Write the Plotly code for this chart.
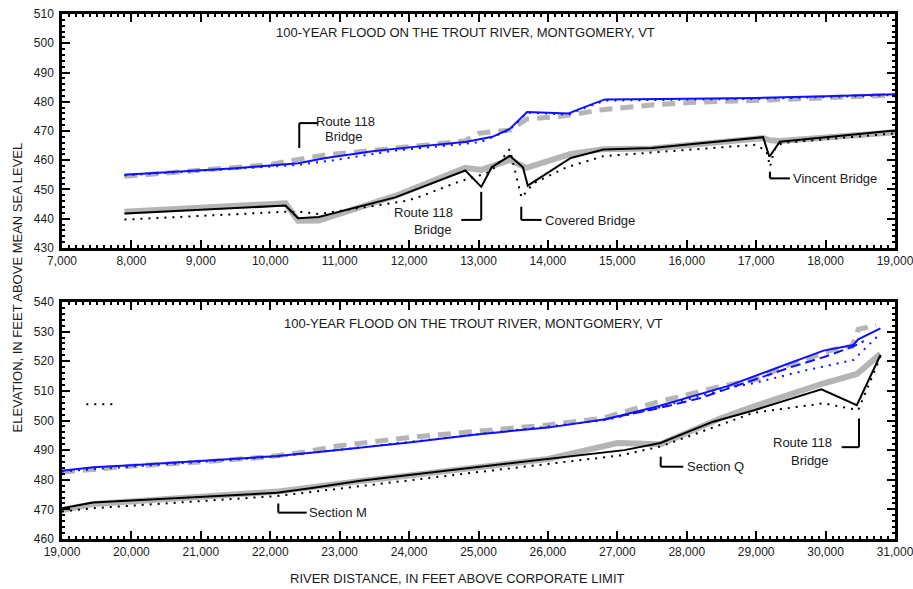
import plotly.graph_objects as go

# ---------------- Upper reach: river distance 7,000 - 19,000 ft ----------------
up_ws_x = [7900, 8500, 9000, 9500, 10000, 10400, 10800, 11500, 12000, 12500, 12830,
           13200, 13450, 13700, 14300, 14450, 14820, 16000, 17000, 18000, 19000]
up_ws_y = [455.0, 455.8, 456.5, 457.3, 458.2, 459.0, 460.8, 463.2, 464.4, 465.4, 466.3,
           468.0, 470.7, 476.5, 476.0, 477.5, 480.8, 481.0, 481.3, 481.9, 482.6]

up_wsdot_x = [7900, 9000, 10000, 10400, 11000, 11800, 12800, 13040, 13450, 13700,
              14300, 14450, 14820, 16000, 17000, 18000, 19000]
up_wsdot_y = [454.8, 456.3, 457.9, 458.4, 460.3, 463.3, 465.6, 466.3, 470.4, 476.3,
              475.6, 477.2, 480.4, 480.8, 481.0, 481.6, 482.3]

up_wsfis_x = [7900, 9000, 10000, 10400, 10800, 12000, 12800, 13000, 13300, 13450, 13700,
              14100, 14400, 14750, 15500, 16200, 17200, 18000, 19000]
up_wsfis_y = [454.5, 456.5, 458.5, 460.3, 461.8, 464.6, 466.6, 469.2, 469.7, 470.3, 474.1,
              474.8, 475.8, 477.2, 478.9, 479.9, 480.6, 481.2, 482.3]

up_bed_x = [7900, 10220, 10400, 10700, 11800, 12810, 13040, 13190, 13450, 13640, 13710,
            14330, 14800, 15500, 17100, 17190, 17340, 19000]
up_bed_y = [441.8, 444.5, 440.2, 440.6, 447.3, 456.5, 450.9, 457.6, 461.5, 457.6, 451.3,
            460.8, 463.7, 464.2, 467.9, 461.2, 466.3, 470.2]

up_bedfis_x = [7900, 10220, 10400, 10700, 11800, 12810, 13040, 13200, 13450, 13690,
               14330, 14800, 15500, 17100, 17200, 17340, 19000]
up_bedfis_y = [442.4, 445.3, 439.3, 439.4, 447.8, 457.4, 456.7, 458.0, 460.1, 457.4,
               462.2, 463.8, 464.0, 467.6, 466.8, 466.6, 469.6]

up_min_x = [7900, 10220, 10450, 10700, 11150, 11960, 12150, 12720, 13110, 13250, 13450,
            13620, 13790, 14270, 14800, 17000, 17150, 17200, 17260, 17370, 19000]
up_min_y = [439.7, 442.4, 442.3, 441.6, 443.2, 446.1, 447.5, 452.7, 455.5, 457.8, 463.8,
            447.2, 452.1, 457.6, 461.4, 465.3, 463.0, 457.8, 463.5, 465.9, 469.2]

# ---------------- Lower reach: river distance 19,000 - 31,000 ft ----------------
lo_ws_x = [19000, 19450, 20000, 21000, 22100, 22700, 23300, 24000, 25000, 26000, 26850,
           27330, 27600, 28600, 29000, 29500, 29970, 30400, 30470, 30790]
lo_ws_y = [483.0, 484.2, 484.9, 486.4, 488.0, 489.4, 490.9, 492.6, 495.4, 497.6, 500.5,
           503.3, 504.9, 511.7, 515.2, 519.5, 523.6, 525.5, 527.4, 531.1]

lo_wsdash_x = [26800, 27300, 27600, 28200, 28600, 29000, 29500, 30000, 30400, 30550]
lo_wsdash_y = [500.3, 502.8, 504.2, 507.6, 510.8, 513.8, 518.0, 521.6, 525.0, 526.8]

lo_wsdot_x = [19000, 22100, 26850, 27600, 28600, 28960, 29730, 30400, 30790]
lo_wsdot_y = [482.8, 487.8, 500.2, 504.4, 511.0, 512.6, 517.0, 520.4, 529.4]

lo_wsfis_x = [19000, 19500, 20000, 21000, 22000, 22500, 23000, 24000, 25000, 26000, 26800,
              27280, 27640, 27900, 28200, 28430, 29050, 29370, 29920, 30110, 30380, 30470, 30730]
lo_wsfis_y = [482.6, 483.8, 484.6, 486.0, 487.8, 489.4, 491.5, 494.3, 496.6, 498.5, 500.8,
              504.1, 506.7, 508.0, 509.7, 511.2, 514.2, 518.0, 522.4, 524.0, 525.0, 530.8, 532.2]

lo_bed_x = [19000, 19450, 20000, 21000, 22100, 22600, 23300, 24000, 25000, 26000, 27100,
            27620, 28380, 28960, 29940, 30450, 30790]
lo_bed_y = [470.4, 472.3, 473.0, 474.2, 475.6, 477.2, 479.7, 481.6, 484.3, 486.8, 490.0,
            492.4, 499.6, 503.4, 510.5, 505.2, 522.1]

lo_bedfis_x = [19000, 19450, 22100, 22600, 23300, 24000, 25000, 26000, 26460, 27000, 27620,
               28480, 29000, 29950, 30450, 30790]
lo_bedfis_y = [469.8, 471.8, 476.0, 477.6, 479.6, 481.4, 484.0, 487.0, 489.5, 492.4, 492.0,
               500.7, 505.0, 512.4, 515.7, 522.5]

lo_min_x = [19000, 19450, 22100, 23300, 24000, 25000, 26000, 27040, 27620, 28960, 29970,
            30470, 30790]
lo_min_y = [469.3, 470.4, 474.5, 478.0, 479.8, 482.6, 485.3, 488.2, 491.2, 502.6, 505.8,
            503.5, 521.5]

lo_mark_x = [19350, 19750]
lo_mark_y = [505.5, 505.5]

TITLE = "100-YEAR FLOOD ON THE TROUT RIVER, MONTGOMERY, VT"

GRAY = "#b5b5b5"
BLUE = "#1010ff"
FONT = "Liberation Sans, Arial, sans-serif"
TXT = "#1a1a1a"

fig = go.Figure()


def add_line(x, y, color, width, dash, xa, ya):
    fig.add_trace(go.Scatter(x=x, y=y, mode="lines", xaxis=xa, yaxis=ya,
                             line=dict(color=color, width=width, dash=dash),
                             showlegend=False, hoverinfo="skip"))


# upper panel (gray thick lines first, underneath)
add_line(up_bedfis_x, up_bedfis_y, GRAY, 6, "solid", "x", "y")
add_line(up_wsfis_x, up_wsfis_y, GRAY, 5, "13px,8px", "x", "y")
add_line(up_min_x, up_min_y, "black", 2, "2px,6px", "x", "y")
add_line(up_bed_x, up_bed_y, "black", 2, "solid", "x", "y")
add_line(up_wsdot_x, up_wsdot_y, BLUE, 2, "2px,6px", "x", "y")
add_line(up_ws_x, up_ws_y, BLUE, 2, "solid", "x", "y")

# lower panel
add_line(lo_bedfis_x, lo_bedfis_y, GRAY, 6, "solid", "x2", "y2")
add_line(lo_wsfis_x, lo_wsfis_y, GRAY, 5, "13px,8px", "x2", "y2")
add_line(lo_min_x, lo_min_y, "black", 2, "2px,6px", "x2", "y2")
add_line(lo_mark_x, lo_mark_y, "black", 2, "2px,6px", "x2", "y2")
add_line(lo_bed_x, lo_bed_y, "black", 2, "solid", "x2", "y2")
add_line(lo_wsdot_x, lo_wsdot_y, BLUE, 2, "2px,6px", "x2", "y2")
add_line(lo_wsdash_x, lo_wsdash_y, BLUE, 2, "10px,5px", "x2", "y2")
add_line(lo_ws_x, lo_ws_y, BLUE, 2, "solid", "x2", "y2")


def axis_style(rng, dtick, minor_dtick, domain, anchor, fmt=None, standoff=0):
    d = dict(range=rng, domain=domain, anchor=anchor, dtick=dtick, tick0=rng[0],
             showline=True, linecolor="black", linewidth=2.5, mirror="allticks",
             ticks="inside", ticklen=8, tickwidth=2, tickcolor="black",
             minor=dict(ticks="inside", ticklen=3, tickwidth=1.5, dtick=minor_dtick,
                        tickcolor="black", showgrid=False),
             showgrid=False, zeroline=False, ticklabeloverflow="allow",
             automargin=False, ticklabelstandoff=standoff,
             tickfont=dict(family=FONT, size=12, color=TXT))
    if fmt:
        d["tickformat"] = fmt
    return d


top_dom = [0.5543, 1.0]
bot_dom = [0.0, 0.4514]

fig.update_layout(
    width=913, height=589,
    margin=dict(l=62, r=18, t=14, b=50, autoexpand=False),
    paper_bgcolor="white", plot_bgcolor="white",
    xaxis=axis_style([7000, 19000], 1000, 100, [0, 1], "y", ",d"),
    yaxis=axis_style([430, 510], 10, 2, top_dom, "x", standoff=3),
    xaxis2=axis_style([19000, 31000], 1000, 100, [0, 1], "y2", ",d"),
    yaxis2=axis_style([460, 540], 10, 2, bot_dom, "x2", standoff=3),
)


def leader(xa, ya, pts):
    for (x0, y0), (x1, y1) in zip(pts[:-1], pts[1:]):
        fig.add_shape(type="line", xref=xa, yref=ya, x0=x0, y0=y0, x1=x1, y1=y1,
                      line=dict(color="black", width=2))


def label(xa, ya, x, y, text, anchor="center"):
    fig.add_annotation(xref=xa, yref=ya, x=x, y=y, text=text, showarrow=False,
                       xanchor=anchor, yanchor="middle",
                       font=dict(family=FONT, size=13, color=TXT))


# upper panel labels
label("x", "y", 12813, 503.8, TITLE)
leader("x", "y", [(10418, 464.2), (10418, 472.7), (10690, 472.7)])
label("x", "y", 11080, 473.1, "Route 118")
label("x", "y", 11060, 468.0, "Bridge")
leader("x", "y", [(13039, 449.2), (13039, 439.6), (12751, 439.6)])
label("x", "y", 12207, 442.0, "Route 118")
label("x", "y", 12351, 436.2, "Bridge")
leader("x", "y", [(13616, 444.1), (13616, 439.6), (13909, 439.6)])
label("x", "y", 13930, 439.4, "Covered Bridge", "left")
leader("x", "y", [(17198, 456.1), (17198, 453.8), (17486, 453.8)])
label("x", "y", 17505, 453.9, "Vincent Bridge", "left")

# lower panel labels
label("x2", "y2", 24935, 532.8, TITLE)
leader("x2", "y2", [(22116, 472.0), (22116, 468.9), (22525, 468.9)])
label("x2", "y2", 22535, 468.9, "Section M", "left")
leader("x2", "y2", [(27625, 487.8), (27625, 484.4), (27950, 484.4)])
label("x2", "y2", 27980, 484.4, "Section Q", "left")
leader("x2", "y2", [(30481, 500.7), (30481, 491.0), (30232, 491.0)])
label("x2", "y2", 29667, 492.5, "Route 118")
label("x2", "y2", 29769, 486.4, "Bridge")

# axis titles
fig.add_annotation(xref="paper", yref="paper", x=(17 - 62) / 833, y=(539 - 287.5) / 525,
                   text="ELEVATION, IN FEET ABOVE MEAN SEA LEVEL", textangle=-90,
                   showarrow=False, xanchor="center", yanchor="middle",
                   font=dict(family=FONT, size=13, color=TXT))
fig.add_annotation(xref="paper", yref="paper", x=(457.5 - 62) / 833, y=(539 - 578) / 525,
                   text="RIVER DISTANCE, IN FEET ABOVE CORPORATE LIMIT",
                   showarrow=False, xanchor="center", yanchor="middle",
                   font=dict(family=FONT, size=13, color=TXT))

fig.write_html("out.html")
